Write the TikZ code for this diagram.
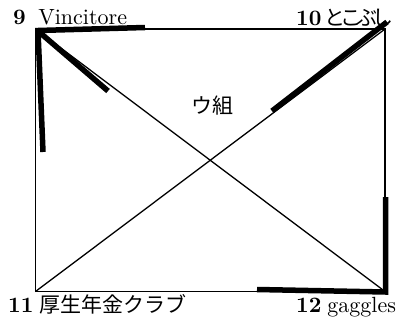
\documentclass[tikz,border=0pt]{standalone}
\usepackage{fontspec}
\setmainfont{lmroman10-regular}[Extension=.otf,BoldFont=lmroman10-bold]
\newfontfamily\jpfont{Noto Sans CJK JP}
\begin{document}
\begin{tikzpicture}[x=1pt,y=-1pt,
  thinline/.style={line width=1.3pt},
  thickline/.style={line width=5.5pt,line cap=butt,line join=miter},
  lbl/.style={inner sep=0pt,font=\fontsize{22}{24}\selectfont},
  jp/.style={inner sep=0pt,font=\jpfont\fontsize{21}{24}\selectfont}]
\useasboundingbox (0,0) rectangle (400,322);
\coordinate (tl) at (35.5,29);
\coordinate (tr) at (385,29);
\coordinate (bl) at (35.5,291.5);
\coordinate (br) at (385,291.5);
\draw[thinline] (tl) -- (tr) -- (br) -- (bl) -- cycle;
\draw[thinline] (tl) -- (br);
\draw[thinline] (bl) -- (tr);
% thick strokes
\coordinate (a1) at (145,27.5);
\coordinate (a2) at (38,30.5);
\coordinate (a3) at (43,152);
\draw[thickline] (a1) -- (a2) -- (a3);
\coordinate (d1) at (38,31);
\coordinate (d2) at (108,91);
\draw[thickline] (d1) -- (d2);
\coordinate (e1) at (387,22);
\coordinate (e2) at (272,111);
\draw[thickline] (e1) -- (e2);
\coordinate (f1) at (385.5,197);
\coordinate (f2) at (385.5,292);
\coordinate (f3) at (257,289.5);
\draw[thickline] (f1) -- (f2) -- (f3);
% labels
\node[lbl,anchor=base west] (n9) at (13,24) {\textbf{9}\hspace{12.5pt}Vincitore};
\node[lbl,anchor=base west] (n10) at (296,25) {\textbf{10}};
\node[jp,anchor=base west] (t10) at (324.5,25) {と\kern-5pt こ\kern-5pt ぶ\kern-5pt し};
\node[lbl,anchor=base west] (n11) at (8,312) {\textbf{11}};
\node[jp,anchor=base west] (t11) at (39,312) {厚生年金クラブ};
\node[lbl,anchor=base west] (n12) at (296,312) {\textbf{12}\hspace{6pt}gaggles};
\node[jp,anchor=center] (grp) at (212,106) {ウ組};
\end{tikzpicture}
\end{document}
